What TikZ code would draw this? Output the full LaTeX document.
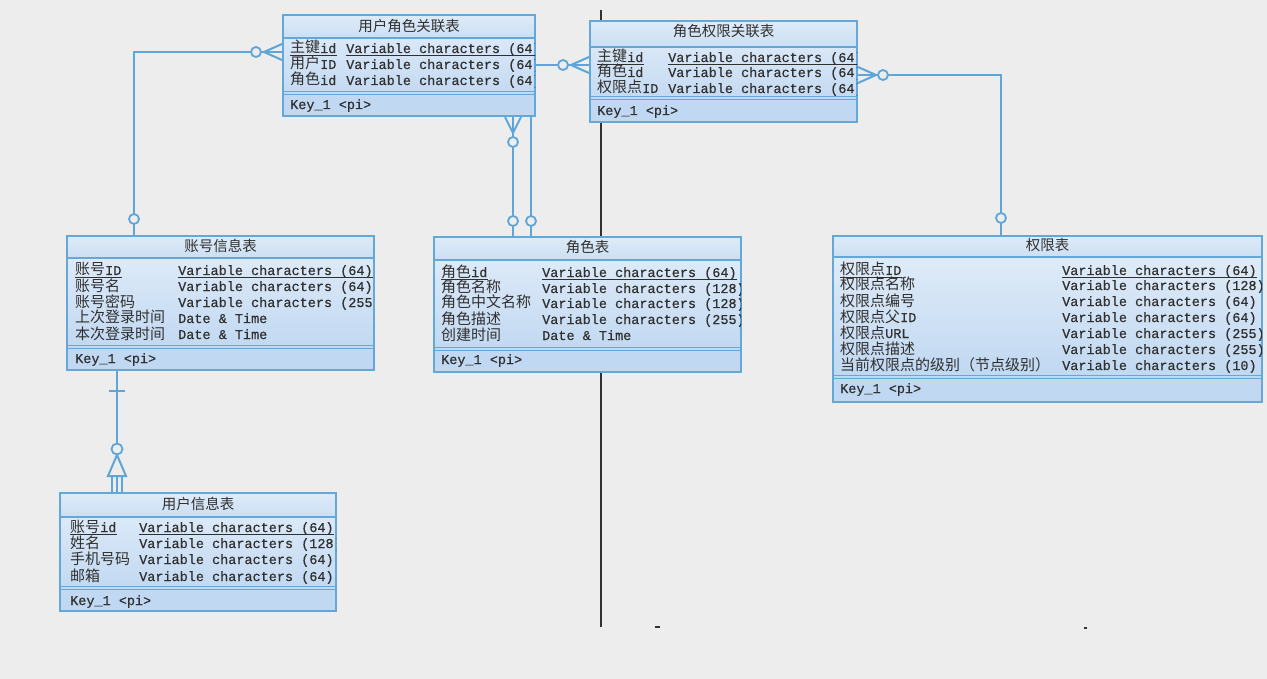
\documentclass[tikz,border=0pt]{standalone}
\usepackage{fontspec}
\newfontfamily\mono[FakeBold=0.5]{Liberation Mono}
\newfontfamily\cjk{Noto Sans CJK SC}
\usetikzlibrary{fit}
\definecolor{bg}{RGB}{237,237,237}
\definecolor{tblue}{RGB}{100,168,218}
\definecolor{cblue}{RGB}{95,165,215}
\definecolor{bodytop}{RGB}{228,238,249}
\definecolor{bodybot}{RGB}{186,212,240}
\definecolor{headtop}{RGB}{222,235,248}
\definecolor{headbot}{RGB}{203,223,243}
\definecolor{keyfill}{RGB}{192,216,242}
\definecolor{txt}{RGB}{48,48,48}
\definecolor{vline}{RGB}{50,50,50}
\pgfdeclarelayer{back}
\pgfsetlayers{back,main}
\newcommand\zh[1]{{\cjk\fontsize{15}{16}\selectfont #1}}
\newcommand\erframe[7]{%
  \shade[top color=bodytop,bottom color=bodybot] (#2,#3) rectangle (#4,#5);
  \shade[top color=headtop,bottom color=headbot] (#2,#3) rectangle (#4,#6);
  \fill[keyfill] (#2,#7) rectangle (#4,#5);
  \draw[sepline] (#2,#6) -- (#4,#6);
  \draw[sepline] (#2,#7-1.5) -- (#4,#7-1.5);
  \draw[sepline] (#2,#7+1.5) -- (#4,#7+1.5);
  \node[tframe, fit={(#2,#3) (#4,#5)}] (#1) {};
}
\tikzset{
 cell/.style={anchor=base west, inner sep=0pt, text=txt, font=\mono\fontsize{13.5}{16}\selectfont},
 ttl/.style={anchor=base, inner sep=0pt, text=txt, font=\cjk\fontsize{14.5}{16}\selectfont},
 tframe/.style={draw=tblue, line width=2pt, inner sep=0pt},
 sepline/.style={draw=tblue, line width=1.2pt},
 uline/.style={draw=txt, line width=1pt},
 conn/.style={draw=cblue, line width=2pt},
 oring/.style={circle, draw=cblue, line width=1.8pt, fill=bg, minimum size=10pt, inner sep=0pt},
}
\begin{document}
\begin{tikzpicture}[x=1pt,y=-1pt]
\begin{pgfonlayer}{back}
\fill[bg] (0,0) rectangle (1267,679);
\draw[vline, line width=1.8pt] (601,10) -- (601,627);
\draw[vline, line width=1.8pt] (655,627) -- (660,627);
\draw[vline, line width=1.4pt] (1084,628) -- (1087,628);
\end{pgfonlayer}
\useasboundingbox (0,0) rectangle (1267,679);

% ---------- 用户角色关联表
\erframe{urt}{283}{15}{535}{116}{38}{93}
\begin{scope}
\clip (283,15) rectangle (535,116);
\node[ttl] (urt-t) at (409,32) {用户角色关联表};
\node[cell] (urt-n1) at (290,53) {\zh{主键}id};
\node[cell] (urt-v1) at (346,53) {Variable characters (64)};
\node[cell] (urt-n2) at (290,69) {\zh{用户}ID};
\node[cell] (urt-v2) at (346,69) {Variable characters (64)};
\node[cell] (urt-n3) at (290,85) {\zh{角色}id};
\node[cell] (urt-v3) at (346,85) {Variable characters (64)};
\node[cell] (urt-k) at (290,109) {Key\_1 <pi>};
\draw[uline] ([yshift=-2.5]urt-n1.base west) -- ([yshift=-2.5]urt-n1.base east);
\draw[uline] ([yshift=-2.5]urt-v1.base west) -- ([yshift=-2.5]urt-v1.base east);
\end{scope}

% ---------- 角色权限关联表
\erframe{rpt}{590}{21}{857}{122}{47}{98}
\begin{scope}
\clip (590,21) rectangle (857,122);
\node[ttl] (rpt-t) at (723.5,37) {角色权限关联表};
\node[cell] (rpt-n1) at (597,62) {\zh{主键}id};
\node[cell] (rpt-v1) at (668,62) {Variable characters (64)};
\node[cell] (rpt-n2) at (597,77) {\zh{角色}id};
\node[cell] (rpt-v2) at (668,77) {Variable characters (64)};
\node[cell] (rpt-n3) at (597,93) {\zh{权限点}ID};
\node[cell] (rpt-v3) at (668,93) {Variable characters (64)};
\node[cell] (rpt-k) at (597,115) {Key\_1 <pi>};
\draw[uline] ([yshift=-2.5]rpt-n1.base west) -- ([yshift=-2.5]rpt-n1.base east);
\draw[uline] ([yshift=-2.5]rpt-v1.base west) -- ([yshift=-2.5]rpt-v1.base east);
\end{scope}

% ---------- 账号信息表
\erframe{acc}{67}{236}{374}{370}{258}{347}
\begin{scope}
\clip (67,236) rectangle (374,370);
\node[ttl] (acc-t) at (220.5,252) {账号信息表};
\node[cell] (acc-n1) at (75,275) {\zh{账号}ID};
\node[cell] (acc-v1) at (178,275) {Variable characters (64)};
\node[cell] (acc-n2) at (75,291) {\zh{账号名}};
\node[cell] (acc-v2) at (178,291) {Variable characters (64)};
\node[cell] (acc-n3) at (75,307) {\zh{账号密码}};
\node[cell] (acc-v3) at (178,307) {Variable characters (255)};
\node[cell] (acc-n4) at (75,323) {\zh{上次登录时间}};
\node[cell] (acc-v4) at (178,323) {Date \& Time};
\node[cell] (acc-n5) at (75,339) {\zh{本次登录时间}};
\node[cell] (acc-v5) at (178,339) {Date \& Time};
\node[cell] (acc-k) at (75,363) {Key\_1 <pi>};
\draw[uline] ([yshift=-2.5]acc-n1.base west) -- ([yshift=-2.5]acc-n1.base east);
\draw[uline] ([yshift=-2.5]acc-v1.base west) -- ([yshift=-2.5]acc-v1.base east);
\end{scope}

% ---------- 角色表
\erframe{role}{434}{237}{741}{372}{260}{349}
\begin{scope}
\clip (434,237) rectangle (741,372);
\node[ttl] (role-t) at (587.5,253) {角色表};
\node[cell] (role-n1) at (441,277) {\zh{角色}id};
\node[cell] (role-v1) at (542,277) {Variable characters (64)};
\node[cell] (role-n2) at (441,293) {\zh{角色名称}};
\node[cell] (role-v2) at (542,293) {Variable characters (128)};
\node[cell] (role-n3) at (441,308) {\zh{角色中文名称}};
\node[cell] (role-v3) at (542,308) {Variable characters (128)};
\node[cell] (role-n4) at (441,324) {\zh{角色描述}};
\node[cell] (role-v4) at (542,324) {Variable characters (255)};
\node[cell] (role-n5) at (441,340) {\zh{创建时间}};
\node[cell] (role-v5) at (542,340) {Date \& Time};
\node[cell] (role-k) at (441,364) {Key\_1 <pi>};
\draw[uline] ([yshift=-2.5]role-n1.base west) -- ([yshift=-2.5]role-n1.base east);
\draw[uline] ([yshift=-2.5]role-v1.base west) -- ([yshift=-2.5]role-v1.base east);
\end{scope}

% ---------- 权限表
\erframe{perm}{833}{236}{1262}{402}{257}{377}
\begin{scope}
\clip (833,236) rectangle (1262,402);
\node[ttl] (perm-t) at (1047.5,251) {权限表};
\node[cell] (perm-n1) at (840,275) {\zh{权限点}ID};
\node[cell] (perm-v1) at (1062,275) {Variable characters (64)};
\node[cell] (perm-n2) at (840,290) {\zh{权限点名称}};
\node[cell] (perm-v2) at (1062,290) {Variable characters (128)};
\node[cell] (perm-n3) at (840,306) {\zh{权限点编号}};
\node[cell] (perm-v3) at (1062,306) {Variable characters (64)};
\node[cell] (perm-n4) at (840,322) {\zh{权限点父}ID};
\node[cell] (perm-v4) at (1062,322) {Variable characters (64)};
\node[cell] (perm-n5) at (840,338) {\zh{权限点}URL};
\node[cell] (perm-v5) at (1062,338) {Variable characters (255)};
\node[cell] (perm-n6) at (840,354) {\zh{权限点描述}};
\node[cell] (perm-v6) at (1062,354) {Variable characters (255)};
\node[cell] (perm-n7) at (840,370) {\zh{当前权限点的级别（节点级别）}};
\node[cell] (perm-v7) at (1062,370) {Variable characters (10)};
\node[cell] (perm-k) at (840,393) {Key\_1 <pi>};
\draw[uline] ([yshift=-2.5]perm-n1.base west) -- ([yshift=-2.5]perm-n1.base east);
\draw[uline] ([yshift=-2.5]perm-v1.base west) -- ([yshift=-2.5]perm-v1.base east);
\end{scope}

% ---------- 用户信息表
\erframe{user}{60}{493}{336}{611}{517}{588}
\begin{scope}
\clip (60,493) rectangle (336,611);
\node[ttl] (user-t) at (198,509) {用户信息表};
\node[cell] (user-n1) at (70,532) {\zh{账号}id};
\node[cell] (user-v1) at (139,532) {Variable characters (64)};
\node[cell] (user-n2) at (70,548) {\zh{姓名}};
\node[cell] (user-v2) at (139,548) {Variable characters (128)};
\node[cell] (user-n3) at (70,564) {\zh{手机号码}};
\node[cell] (user-v3) at (139,564) {Variable characters (64)};
\node[cell] (user-n4) at (70,581) {\zh{邮箱}};
\node[cell] (user-v4) at (139,581) {Variable characters (64)};
\node[cell] (user-k) at (70,605) {Key\_1 <pi>};
\draw[uline] ([yshift=-2.5]user-n1.base west) -- ([yshift=-2.5]user-n1.base east);
\draw[uline] ([yshift=-2.5]user-v1.base west) -- ([yshift=-2.5]user-v1.base east);
\end{scope}

% ---------- connectors (behind tables)
\begin{pgfonlayer}{back}
% A: 用户角色关联表 -> 账号信息表
\coordinate (A1) at ([yshift=13.5]urt.west);
\coordinate (A2) at ([xshift=68]acc.north west);
\draw[conn] (A1) -| (A2);
\draw[conn] ([xshift=-18]A1) -- ([yshift=8]A1);
\draw[conn] ([xshift=-18]A1) -- ([yshift=-8]A1);
\node[oring] (cA1) at ([xshift=-26]A1) {};
\node[oring] (cA2) at ([yshift=16]A2) {};
% B: 角色权限关联表 -> 角色表
\coordinate (B1) at ([yshift=6.5]rpt.west);
\coordinate (B2) at ([xshift=98]role.north west);
\draw[conn] (B1) -| (B2);
\draw[conn] ([xshift=-18]B1) -- ([yshift=8]B1);
\draw[conn] ([xshift=-18]B1) -- ([yshift=-8]B1);
\node[oring] (cB1) at ([xshift=-26]B1) {};
\node[oring] (cB2) at ([yshift=15]B2) {};
% C: 用户角色关联表 -> 角色表
\coordinate (C1) at ([xshift=231]urt.south west);
\coordinate (C2) at ([xshift=80]role.north west);
\draw[conn] (C1) -- (C2);
\draw[conn] ([yshift=-16]C1) -- ([xshift=-8]C1);
\draw[conn] ([yshift=-16]C1) -- ([xshift=8]C1);
\node[oring] (cC1) at ([yshift=-25]C1) {};
\node[oring] (cC2) at ([yshift=15]C2) {};
% D: 角色权限关联表 -> 权限表
\coordinate (D1) at ([yshift=-3.5]rpt.east);
\coordinate (D2) at ([xshift=169]perm.north west);
\draw[conn] (D1) -| (D2);
\draw[conn] ([xshift=18]D1) -- ([yshift=8]D1);
\draw[conn] ([xshift=18]D1) -- ([yshift=-8]D1);
\node[oring] (cD1) at ([xshift=25]D1) {};
\node[oring] (cD2) at ([yshift=17]D2) {};
% E: 账号信息表 -> 用户信息表 (inheritance)
\coordinate (E1) at ([xshift=51]acc.south west);
\coordinate (E2) at ([xshift=58]user.north west);
\draw[conn] (E1) -- (E2);
\draw[conn] ([xshift=-8,yshift=-20]E1) -- ([xshift=8,yshift=-20]E1);
\draw[conn, fill=bg, line join=miter] ([yshift=37]E2) -- ([xshift=-9,yshift=16]E2) -- ([xshift=9,yshift=16]E2) -- cycle;
\draw[conn] ([xshift=-5,yshift=16]E2) -- ([xshift=-5]E2);
\draw[conn] ([yshift=16]E2) -- (E2);
\draw[conn] ([xshift=5,yshift=16]E2) -- ([xshift=5]E2);
\node[oring, minimum size=11pt] (cE) at ([yshift=43]E2) {};
\end{pgfonlayer}
\end{tikzpicture}
\end{document}
